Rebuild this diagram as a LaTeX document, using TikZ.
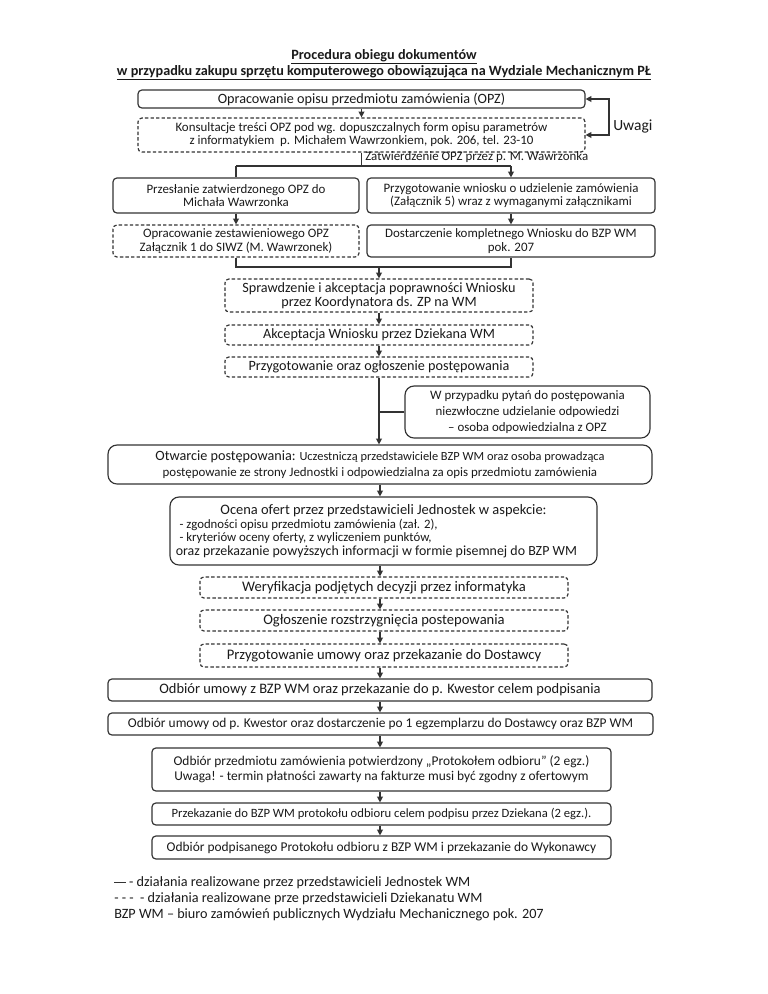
\documentclass[tikz,border=0pt]{standalone}
\usepackage{fontspec}
\setmainfont{Carlito}
\usetikzlibrary{arrows.meta}
\definecolor{ln}{HTML}{333333}
\definecolor{tx}{HTML}{1A1A1A}
\newcommand\fsz[2]{\fontsize{#1}{#2}\selectfont}
\tikzset{
  base/.style={draw=ln, line width=0.9pt, rounded corners=3pt, align=center, text=tx,
    font=\fsz{10}{10.5}, inner sep=0pt},
  solidbox/.style={base},
  dashbox/.style={base, dash pattern=on 2.6pt off 1.7pt},
  bigbox/.style={base, rounded corners=7pt},
  conn/.style={draw=ln, line width=0.9pt},
  arr/.style={conn, -{Triangle[length=4.5pt,width=4.5pt]}},
  dblarr/.style={conn, {Triangle[length=4.5pt,width=4.5pt]}-{Triangle[length=4.5pt,width=4.5pt]}},
  lbl/.style={text=tx, inner sep=0pt, anchor=west},
}
\newcommand\bx[7]{%
  \pgfmathsetmacro\bxw{(#5-#3)*0.775}%
  \pgfmathsetmacro\bxh{(#6-#4)*0.775}%
  \node[#2, minimum width=\bxw pt, minimum height=\bxh pt] (#1) at ({(#3+#5)/2},{(#4+#6)/2}) {#7};%
}
\begin{document}
\begin{tikzpicture}[x=0.775pt,y=-0.775pt]
\useasboundingbox (0,0) rectangle (768,994);
\fill[white] (0,0) rectangle (768,994);

\node[text=tx, align=center, font=\bfseries\fsz{11}{12.4}, inner sep=0pt] (title) at (384,65)
  {\underline{Procedura obiegu dokumentów}\\\underline{w przypadku zakupu sprzętu komputerowego obowiązująca na Wydziale Mechanicznym PŁ}};

\bx{b1}{solidbox, font=\fsz{11}{12}}{138}{90}{585}{108}{Opracowanie opisu przedmiotu zamówienia (OPZ)}
\bx{b2}{dashbox, font=\fsz{10}{10}}{138}{118}{585}{152}{Konsultacje treści OPZ pod wg. dopuszczalnych form opisu parametrów\\z informatykiem\ \ p. Michałem Wawrzonkiem, pok. 206, tel. 23-10}
\bx{b3L}{solidbox, font=\fsz{10}{10.6}}{113}{178}{359}{213}{Przesłanie zatwierdzonego OPZ do\\Michała Wawrzonka}
\bx{b3R}{solidbox, font=\fsz{10}{10.6}}{367}{178}{655}{213}{Przygotowanie wniosku o udzielenie zamówienia\\(Załącznik 5) wraz z wymaganymi załącznikami}
\bx{b4L}{dashbox, font=\fsz{10}{10.6}}{113}{225}{359}{257}{Opracowanie zestawieniowego OPZ\\Załącznik 1 do SIWZ (M. Wawrzonek)}
\bx{b4R}{solidbox, font=\fsz{10}{10.6}}{367}{225}{655}{257}{Dostarczenie kompletnego Wniosku do BZP WM\\pok. 207}
\bx{b5}{dashbox, font=\fsz{11}{10.4}}{225}{279}{533}{312}{Sprawdzenie i akceptacja poprawności Wniosku\\przez Koordynatora ds. ZP na WM}
\bx{b6}{dashbox, font=\fsz{11}{12}}{225}{325}{533}{345}{Akceptacja Wniosku przez Dziekana WM}
\bx{b7}{dashbox, font=\fsz{11}{12}}{225}{357}{533}{377}{Przygotowanie oraz ogłoszenie postępowania}
\bx{side}{bigbox, font=\fsz{10}{12.6}}{405}{386}{650}{438}{W przypadku pytań do postępowania\\niezwłoczne udzielanie odpowiedzi\\– osoba odpowiedzialna z OPZ}
\bx{b8}{bigbox, font=\fsz{10}{12.2}}{108}{445}{652}{484}{{\fsz{11}{12}Otwarcie postępowania:} {\fsz{9.6}{12}Uczestniczą przedstawiciele BZP WM oraz osoba prowadząca}\\postępowanie ze strony Jednostki i odpowiedzialna za opis przedmiotu zamówienia}
\bx{b9}{bigbox}{170}{497}{597}{565}{\begin{minipage}{322pt}\fsz{9.9}{10.5}%
  \centering{\fsz{11.2}{12.4}Ocena ofert przez przedstawicieli Jednostek w aspekcie:}\par
  \raggedright\leftskip=3pt - zgodności opisu przedmiotu zamówienia (zał. 2),\\
  - kryteriów oceny oferty, z wyliczeniem punktów,\par
  \leftskip=0pt{\fsz{10.8}{10.4}oraz przekazanie powyższych informacji w formie pisemnej do BZP WM\par}\end{minipage}}
\bx{b10}{dashbox, font=\fsz{11.3}{12}}{200}{577}{568}{598}{Weryfikacja podjętych decyzji przez informatyka}
\bx{b11}{dashbox, font=\fsz{11.3}{12}}{200}{610}{568}{631}{Ogłoszenie rozstrzygnięcia postepowania}
\bx{b12}{dashbox, font=\fsz{11.3}{12}}{200}{644}{568}{667}{Przygotowanie umowy oraz przekazanie do Dostawcy}
\bx{b13}{solidbox, font=\fsz{11.2}{12}}{108}{679}{652}{701}{Odbiór umowy z BZP WM oraz przekazanie do p. Kwestor celem podpisania}
\bx{b14}{solidbox, font=\fsz{10.4}{12}}{108}{713}{653}{735}{Odbiór umowy od p. Kwestor oraz dostarczenie po 1 egzemplarzu do Dostawcy oraz BZP WM}
\bx{b15}{solidbox, font=\fsz{10.4}{11.6}}{152}{748}{611}{791}{Odbiór przedmiotu zamówienia potwierdzony „Protokołem odbioru” (2 egz.)\\Uwaga! - termin płatności zawarty na fakturze musi być zgodny z ofertowym}
\bx{b16}{solidbox, font=\fsz{9.8}{12}}{152}{803}{611}{825}{Przekazanie do BZP WM protokołu odbioru celem podpisu przez Dziekana (2 egz.).}
\bx{b17}{solidbox, font=\fsz{10.4}{12}}{152}{836}{611}{859}{Odbiór podpisanego Protokołu odbioru z BZP WM i przekazanie do Wykonawcy}

% labels
\node[lbl, font=\fsz{12}{13}] (uwagi) at (613,126) {Uwagi};
\node[lbl, font=\fsz{10}{11}] (zatw) at (365,157) {Zatwierdzenie OPZ przez p. M. Wawrzonka};

% connectors
\coordinate (uwx) at (609,0);
\coordinate (col) at (380,0);
\draw[arr] (b1) -- (b2);
\draw[dblarr] (b2.east) -- (b2.east -| uwx) -- (b1.east -| uwx) -- (b1.east);
\coordinate (j1) at (361.5,166);
\draw[conn] (b2.south) -- (j1);
\draw[conn] (b3L.north |- j1) -- (b3R.north |- j1);
\draw[conn] (b3L.north |- j1) -- (b3L.north);
\draw[arr] (b3R.north |- j1) -- (b3R.north);
\draw[arr] (b3L) -- (b4L);
\draw[arr] (b3R) -- (b4R);
\coordinate (j2) at (379,267);
\draw[conn] (b4L.south) |- (b4R.south |- j2) -- (b4R.south);
\draw[arr] (j2) -- (b5.north);
\draw[arr] (b5) -- (b6);
\draw[arr] (b6) -- (b7);
\draw[arr] (b7.south) -- (b7.south |- b8.north);
\draw[conn] (side.west) -- (side.west -| b7.south);
\draw[arr] (b8.south -| col) -- (b9.north -| col);
\draw[arr] (b9.south -| col) -- (b10.north -| col);
\draw[arr] (b10.south -| col) -- (b11.north -| col);
\draw[arr] (b11.south -| col) -- (b12.north -| col);
\draw[arr] (b12.south -| col) -- (b13.north -| col);
\draw[arr] (b13.south -| col) -- (b14.north -| col);
\draw[arr] (b14.south -| col) -- (b15.north -| col);
\draw[arr] (b15.south -| col) -- (b16.north -| col);
\draw[arr] (b16.south -| col) -- (b17.north -| col);

% legend
\node[lbl, font=\fsz{11}{12}] (lg1) at (114,883) {\textcolor{ln}{\rule[0.28em]{9pt}{0.5pt}} - działania realizowane przez przedstawicieli Jednostek WM};
\node[lbl, font=\fsz{11}{12}] (lg2) at (114,899) {- - -\ \ - działania realizowane prze przedstawicieli Dziekanatu WM};
\node[lbl, font=\fsz{11}{12}] (lg3) at (114,915) {BZP WM – biuro zamówień publicznych Wydziału Mechanicznego pok. 207};
\end{tikzpicture}
\end{document}
